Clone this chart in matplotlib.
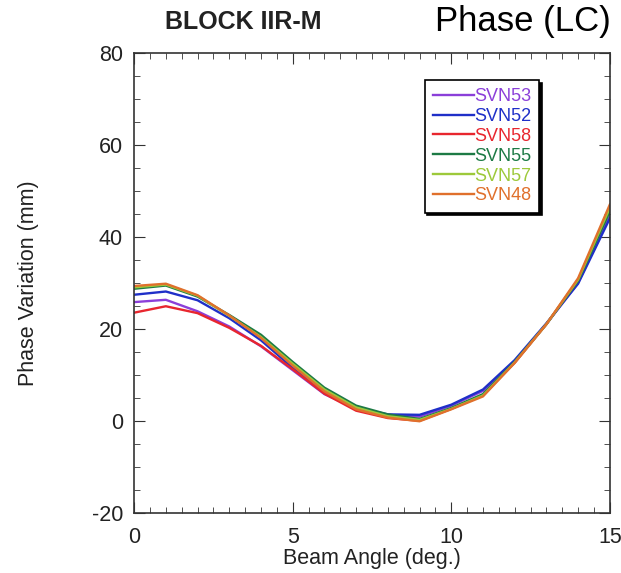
import matplotlib.pyplot as plt
from matplotlib.ticker import MultipleLocator

plt.rcParams['font.family'] = ['Liberation Sans', 'DejaVu Sans']
plt.rcParams['axes.unicode_minus'] = False

angle = list(range(16))
svn53 = [25.8, 26.3, 23.8, 20.5, 16.2, 11.0, 5.8, 2.6, 1.2, 0.9, 3.3, 6.5, 13.0, 21.0, 30.0, 44.5]
svn52 = [27.4, 28.1, 26.2, 22.3, 17.5, 11.5, 6.0, 2.8, 1.4, 1.3, 3.5, 6.8, 13.2, 21.2, 29.8, 44.0]
svn58 = [23.5, 24.9, 23.4, 20.2, 16.3, 11.2, 5.9, 2.2, 0.6, 0.0, 2.6, 5.6, 12.6, 21.0, 30.6, 46.0]
svn55 = [28.7, 29.4, 27.0, 23.0, 18.7, 12.8, 7.2, 3.3, 1.4, 0.4, 2.8, 5.8, 12.8, 21.0, 30.5, 45.5]
svn57 = [29.0, 29.6, 27.2, 22.8, 18.2, 12.4, 6.8, 2.9, 1.0, 0.2, 2.6, 5.5, 12.7, 21.0, 30.7, 46.3]
svn48 = [29.3, 29.8, 27.3, 22.9, 18.0, 12.0, 6.4, 2.5, 0.7, -0.1, 2.5, 5.3, 12.6, 21.0, 31.0, 47.0]

series = [('SVN53', svn53, '#8b3fd9'), ('SVN52', svn52, '#1f2fc8'), ('SVN58', svn58, '#e8262e'),
          ('SVN55', svn55, '#1d7a45'), ('SVN57', svn57, '#9dc93a'), ('SVN48', svn48, '#e0702c')]

fig = plt.figure(figsize=(6.21, 5.73), dpi=100)
ax = fig.add_axes([0.216, 0.105, 0.766, 0.803])
for name, vals, col in series:
    ax.plot(angle, vals, color=col, lw=1.7, label=name)

ax.set_xlim(0, 15)
ax.set_ylim(-20, 80)
ax.xaxis.set_major_locator(MultipleLocator(5))
ax.xaxis.set_minor_locator(MultipleLocator(0.5))
ax.yaxis.set_major_locator(MultipleLocator(20))
ax.yaxis.set_minor_locator(MultipleLocator(5))
ax.tick_params(which='both', direction='in', top=True, right=True, color='#333333', labelcolor='#222222')
ax.tick_params(which='major', length=8, labelsize=15.5, pad=8)
ax.tick_params(axis='x', which='major', pad=10)
ax.tick_params(which='minor', length=4)
for s in ax.spines.values():
    s.set_color('#333333')
    s.set_linewidth(1.2)

ax.set_xlabel('Beam Angle (deg.)', fontsize=15.5, color='#222222', labelpad=0)
ax.set_ylabel('Phase Variation (mm)', fontsize=15.5, color='#222222', labelpad=38)

leg = ax.legend(loc='upper right', bbox_to_anchor=(0.852, 0.941), borderaxespad=0, fontsize=13,
                frameon=True, fancybox=False, shadow={'color': 'black', 'alpha': 1},
                handlelength=2.3, handletextpad=0.0, labelspacing=0.16, borderpad=0.45)
leg.get_frame().set_edgecolor('black')
leg.get_frame().set_linewidth(1.2)
for txt, (_, _, col) in zip(leg.get_texts(), series):
    txt.set_color(col)

fig.text(0.265, 0.962, 'BLOCK IIR-M', fontsize=18, fontweight='bold', color='#222222', va='center')
fig.text(0.70, 0.962, 'Phase (LC)', fontsize=25, color='black', va='center')

fig.savefig('out.png', dpi=100)
